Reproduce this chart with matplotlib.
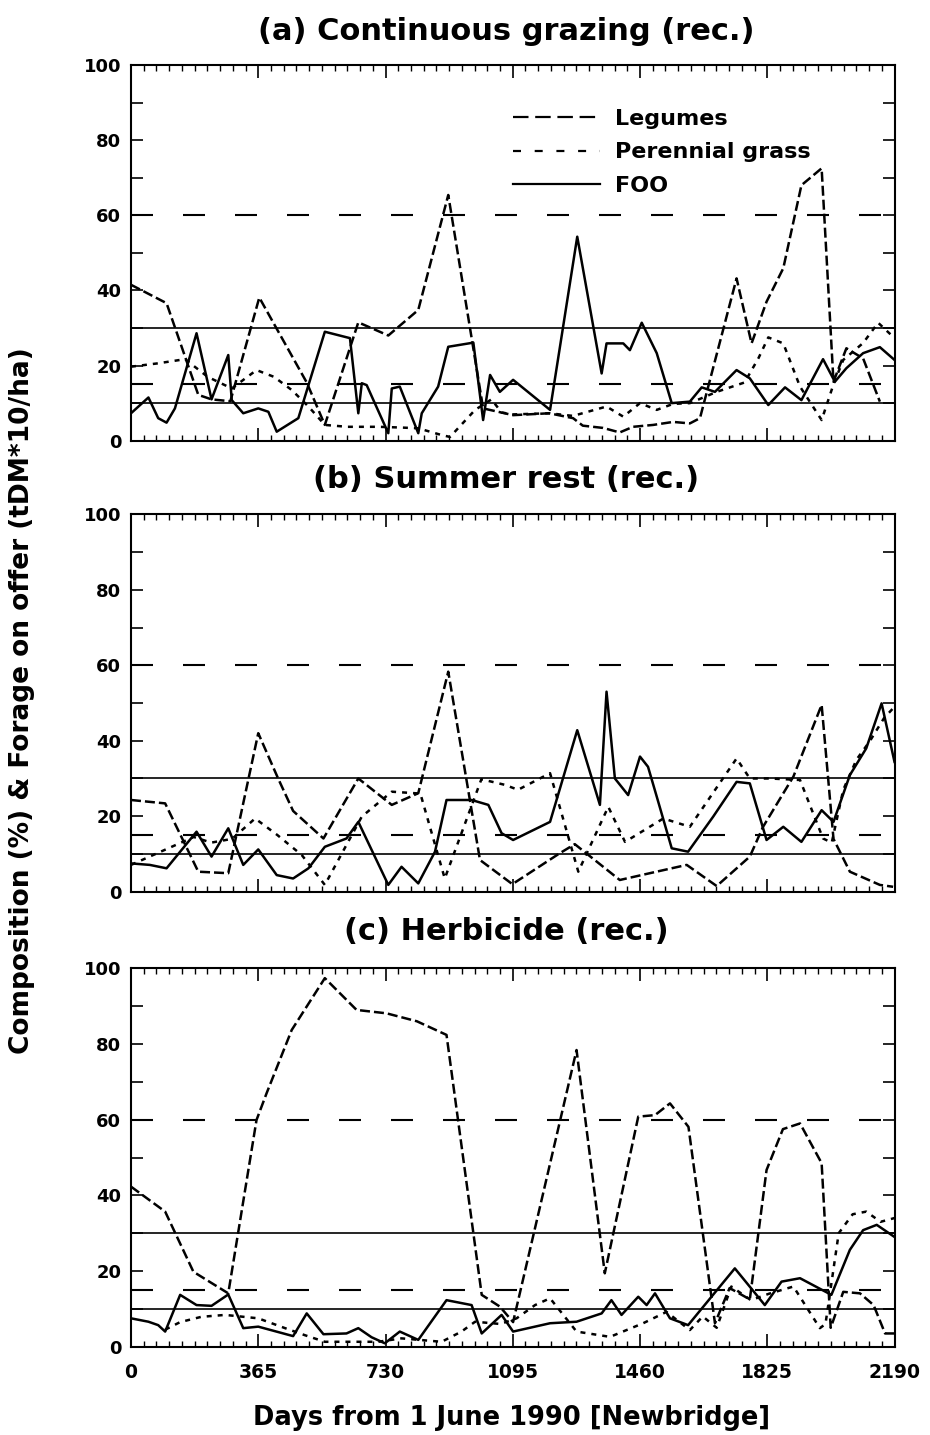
import matplotlib
matplotlib.use('Agg')
import matplotlib.pyplot as plt
from matplotlib.lines import Line2D

plt.rcParams['lines.scale_dashes'] = False
plt.rcParams['font.family'] = ['DejaVu Sans']
plt.rcParams['font.weight'] = 'bold'

# ---------------- data (day, value) ----------------
titles = ["(a) Continuous grazing (rec.)", "(b) Summer rest (rec.)", "(c) Herbicide (rec.)"]
xticks = [0, 365, 730, 1095, 1460, 1825, 2190]
yticks = [0, 20, 40, 60, 80, 100]
series_labels = ["Legumes", "Perennial grass", "FOO"]

# reference thresholds
legume_refs = [60, 15]
foo_refs = [30, 10]

# Panel (a)
a_leg_days = [0, 102, 193, 231, 285, 368, 504, 556, 652, 738, 824, 910, 1010, 1096, 1200, 1268, 1296, 1354, 1402, 1440, 1498, 1555, 1603, 1632, 1737, 1780, 1823, 1871, 1923, 1981, 2015, 2052, 2100, 2148]
a_leg_vals = [41.5, 36.6, 12.2, 11, 10.5, 38.1, 15.5, 4.2, 31.5, 28, 34.8, 65.4, 8.6, 6.8, 7.3, 6, 4, 3.4, 2.2, 3.7, 4.2, 5, 4.6, 6, 43.2, 25.9, 37, 45.9, 68, 72.5, 15.7, 24.6, 21.9, 10.4]
a_per_days = [0, 78, 155, 220, 289, 360, 410, 461, 510, 556, 620, 709, 776, 824, 891, 915, 987, 1034, 1063, 1096, 1200, 1268, 1364, 1412, 1460, 1508, 1555, 1603, 1680, 1760, 1800, 1828, 1871, 1919, 1981, 2015, 2043, 2100, 2143, 2181]
a_per_vals = [19.7, 20.6, 21.7, 17, 13.9, 18.8, 17, 13.5, 9, 4.2, 3.7, 3.7, 3.5, 3.3, 1.5, 1, 8.2, 11, 7.5, 7, 7.3, 6.6, 9.1, 6.4, 10, 8.2, 9.8, 10, 13, 15.5, 22, 27.5, 25.9, 14.4, 5.5, 15, 21.5, 26, 31.4, 28.1]
a_foo_days = [0, 50, 78, 102, 126, 188, 231, 279, 289, 322, 365, 394, 418, 480, 556, 628, 652, 662, 676, 738, 748, 771, 824, 834, 881, 910, 982, 1010, 1030, 1058, 1096, 1202, 1280, 1350, 1364, 1412, 1431, 1465, 1508, 1551, 1603, 1637, 1675, 1737, 1775, 1828, 1876, 1923, 1985, 2019, 2052, 2100, 2148, 2190]
a_foo_vals = [7.3, 11.5, 6, 4.8, 8.6, 28.6, 11, 22.8, 10.8, 7.3, 8.6, 7.7, 2.4, 6, 29, 27.3, 7.3, 15.3, 14.8, 2, 13.9, 14.4, 2, 7.3, 14.4, 25, 26.1, 5.5, 17.5, 13, 16.2, 8.2, 54.3, 17.9, 25.9, 25.9, 24.1, 31.4, 23.3, 10, 10.4, 14.2, 13, 18.8, 16.6, 9.5, 14.2, 10.8, 21.7, 15.7, 19.3, 23.3, 24.9, 21.5]

# Panel (b)
b_leg_days = [0, 98, 193, 279, 365, 422, 465, 552, 652, 748, 824, 910, 1001, 1094, 1230, 1273, 1402, 1488, 1594, 1680, 1775, 1813, 1900, 1981, 2015, 2062, 2148, 2186]
b_leg_vals = [24.3, 23.4, 5.3, 4.9, 42, 30, 21.4, 14.1, 30, 23, 26.1, 58.3, 8.4, 2, 10.2, 12.6, 3.1, 4.9, 7.1, 1.5, 9.3, 17.2, 30.5, 49.5, 14, 5.3, 1.8, 1.3]
b_per_days = [0, 107, 180, 230, 290, 356, 420, 490, 556, 662, 748, 830, 900, 1005, 1073, 1110, 1202, 1283, 1369, 1417, 1527, 1603, 1737, 1775, 1832, 1919, 1985, 2010, 2043, 2081, 2120, 2160, 2190]
b_per_vals = [7.1, 11.5, 14.5, 13, 14, 19.4, 15, 9.7, 1.8, 19.9, 26.5, 26, 3.5, 29.8, 28.3, 27, 31.4, 5.3, 22.5, 13.2, 19.4, 17.2, 35.3, 30, 30, 29.6, 14.1, 13, 27, 35, 40, 46, 49]
b_foo_days = [0, 54, 102, 188, 231, 279, 322, 365, 418, 465, 509, 556, 618, 652, 738, 776, 824, 872, 905, 977, 1025, 1063, 1096, 1202, 1280, 1345, 1364, 1388, 1426, 1460, 1483, 1508, 1551, 1598, 1670, 1737, 1775, 1823, 1871, 1923, 1981, 2015, 2062, 2109, 2153, 2190]
b_foo_vals = [7.5, 7.1, 6.2, 15.9, 9.3, 16.8, 7.1, 11.2, 4.4, 3.5, 6.2, 11.9, 14.1, 18.5, 1.8, 6.6, 2.2, 10.6, 24.3, 24.3, 23, 15.5, 13.7, 18.5, 42.8, 23, 53, 30, 25.6, 35.8, 33.1, 25.2, 11.5, 10.6, 19.9, 29.1, 28.7, 13.7, 17.2, 13.2, 21.6, 18.5, 30.9, 38, 49.9, 34.4]

# Panel (c)
c_leg_days = [0, 98, 179, 279, 360, 389, 461, 556, 647, 733, 820, 905, 1006, 1058, 1096, 1278, 1359, 1455, 1503, 1546, 1599, 1675, 1717, 1775, 1823, 1870, 1919, 1981, 2007, 2043, 2091, 2130, 2163, 2190]
c_leg_vals = [42.3, 35.7, 19.8, 14.1, 59.9, 67, 83.7, 97.4, 89, 88.1, 86, 82.4, 13.7, 10.6, 6.5, 78.4, 19.4, 60.8, 61.2, 64.3, 58.1, 6.2, 15.5, 12.5, 46.7, 57.5, 59, 48.5, 5, 14.5, 14.1, 11, 3.5, 3.5]
c_per_days = [98, 141, 202, 270, 365, 442, 500, 556, 709, 776, 891, 948, 987, 1060, 1106, 1159, 1202, 1278, 1374, 1469, 1536, 1603, 1640, 1680, 1722, 1778, 1830, 1900, 1976, 1992, 2030, 2070, 2109, 2150, 2190]
c_per_vals = [4.5, 6.5, 7.9, 8.4, 7.5, 4.9, 3, 1.3, 1.3, 2.2, 1.3, 4, 6.6, 6, 7.5, 11, 12.8, 4, 2.6, 6.2, 9.2, 4.4, 8, 5, 15.9, 12.3, 14, 15.9, 4.9, 6, 30, 35, 35.7, 33, 34]
c_foo_days = [0, 50, 78, 98, 141, 188, 231, 279, 322, 365, 465, 504, 552, 618, 652, 690, 728, 771, 824, 905, 977, 1006, 1063, 1096, 1202, 1278, 1350, 1378, 1407, 1455, 1479, 1503, 1546, 1598, 1732, 1818, 1866, 1919, 2009, 2062, 2100, 2139, 2190]
c_foo_vals = [7.5, 6.6, 5.7, 4, 13.7, 11, 10.8, 13.8, 4.9, 5.3, 2.8, 8.8, 3.3, 3.5, 4.9, 2.5, 0.9, 4, 1.8, 12.3, 11, 3.5, 8.4, 4, 6.2, 6.6, 8.8, 12.3, 8.4, 13.2, 11, 14.1, 7.5, 5.7, 20.7, 11, 17.2, 18.1, 13.7, 25.6, 30.8, 32.2, 29]

panels = [
    (a_leg_days, a_leg_vals, a_per_days, a_per_vals, a_foo_days, a_foo_vals),
    (b_leg_days, b_leg_vals, b_per_days, b_per_vals, b_foo_days, b_foo_vals),
    (c_leg_days, c_leg_vals, c_per_days, c_per_vals, c_foo_days, c_foo_vals),
]

# ---------------- styles ----------------
W, H = 930, 1435
PT = 72.0 / 100.0  # points per pixel at dpi 100
ref_dash = (0, (22 * PT, 30 * PT))
leg_dash = (0, (10 * PT, 4 * PT))
per_dash = (0, (5 * PT, 6 * PT))

ax_left, ax_right = 131, 894.5
ax_tb = [(65, 440.7), (514.3, 891.7), (968.3, 1346.7)]
title_y = [31, 479, 932]

fig = plt.figure(figsize=(W / 100, H / 100), dpi=100)
fig.patch.set_facecolor('white')

axes = []
for i, (top, bot) in enumerate(ax_tb):
    rect = [ax_left / W, 1 - bot / H, (ax_right - ax_left) / W, (bot - top) / H]
    ax = fig.add_axes(rect)
    axes.append(ax)
    ld, lv, pd_, pv, fd, fv = panels[i]

    for r in legume_refs:
        ax.axhline(r, color='black', lw=1.5, linestyle=ref_dash, zorder=1)
    for r in foo_refs:
        ax.axhline(r, color='black', lw=1.2, linestyle='-', zorder=1)

    ax.plot(ld, lv, color='black', lw=1.8, linestyle=leg_dash, zorder=3)
    ax.plot(pd_, pv, color='black', lw=1.8, linestyle=per_dash, zorder=3)
    ax.plot(fd, fv, color='black', lw=1.8, linestyle='-', zorder=4)

    ax.set_xlim(0, 2190)
    ax.set_ylim(0, 100)
    ax.set_xticks(xticks)
    ax.set_xticks([k * 36.5 for k in range(61)], minor=True)
    ax.set_yticks(list(range(0, 101, 10)))
    ax.set_yticklabels([str(v) if v in yticks else '' for v in range(0, 101, 10)])
    ax.tick_params(axis='y', which='major', direction='in', length=8.6, width=1.2,
                   left=True, right=True, labelsize=13, pad=7)
    ax.tick_params(axis='x', which='major', direction='in', length=9.4, width=1.2,
                   top=True, bottom=True, labelsize=13.5, pad=12)
    ax.tick_params(axis='x', which='minor', direction='in', length=4.3, width=1.0,
                   top=True, bottom=True)
    if i < 2:
        ax.tick_params(axis='x', labelbottom=False)
    for s in ax.spines.values():
        s.set_linewidth(1.5)
    for lab in ax.get_xticklabels() + ax.get_yticklabels():
        lab.set_fontweight('bold')

    fig.text(506 / W, 1 - title_y[i] / H, titles[i], ha='center', va='center',
             fontsize=22, fontweight='bold')

# legend in panel (a)
handles = [
    Line2D([], [], color='black', lw=1.6, linestyle=(0, (15.5 * PT, 6.7 * PT))),
    Line2D([], [], color='black', lw=1.6, linestyle=(0, (8 * PT, 13.7 * PT))),
    Line2D([], [], color='black', lw=1.6, linestyle='-'),
]
leg = axes[0].legend(handles, series_labels, loc='upper left',
                     bbox_to_anchor=((513 - ax_left) / (ax_right - ax_left), (440.7 - 109) / (440.7 - 65)),
                     frameon=False, handlelength=3.9, handletextpad=0.7,
                     labelspacing=0.6, borderpad=0, borderaxespad=0,
                     prop={'weight': 'bold', 'size': 16})

fig.text(22 / W, 1 - 701 / H, "Composition (%) & Forage on offer (tDM*10/ha)",
         rotation=90, ha='center', va='center', fontsize=19, fontweight='bold')
fig.text(512 / W, 1 - 1418 / H, "Days from 1 June 1990 [Newbridge]",
         ha='center', va='center', fontsize=18.5, fontweight='bold')

fig.savefig('out.png', dpi=100, facecolor='white')
